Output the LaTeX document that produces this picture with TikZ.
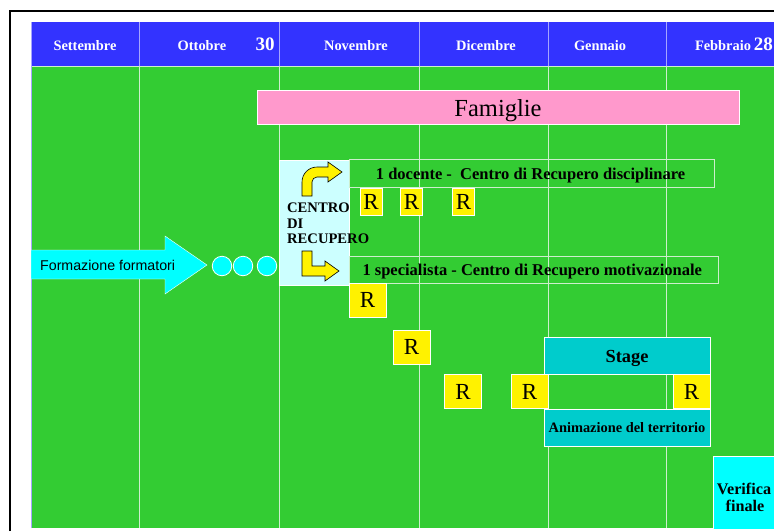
\documentclass[tikz,border=0pt]{standalone}
\usepackage{fontspec}
\setmainfont{Liberation Serif}
\newfontfamily\arialfont{Liberation Sans}

\definecolor{headblue}{RGB}{51,51,255}
\definecolor{fieldgreen}{RGB}{51,204,51}
\definecolor{gridgreen}{RGB}{205,238,205}
\definecolor{gridblue}{RGB}{165,165,255}
\definecolor{famipink}{RGB}{255,153,204}
\definecolor{centrocyan}{RGB}{204,255,255}
\definecolor{stagecyan}{RGB}{0,204,204}
\definecolor{aqua}{RGB}{0,255,255}

\tikzset{
  month/.style={text=white,anchor=base,font=\fontsize{14.4}{16}\selectfont\bfseries},
  daynum/.style={text=white,anchor=base,font=\fontsize{19}{20}\selectfont\bfseries},
  plan/.style={anchor=base west,font=\fontsize{16.5}{18}\selectfont\bfseries},
  centro/.style={anchor=base west,font=\fontsize{14.6}{16}\selectfont\bfseries},
  rbox/.style={fill=yellow,draw=white,line width=0.8pt,inner sep=0pt,
    minimum width=37pt,minimum height=34pt,font=\fontsize{23}{24}\selectfont},
  dot/.style={circle,fill=aqua,draw=white,line width=0.8pt,inner sep=0pt,minimum size=19.5pt},
  bentarrow/.style={fill=yellow,draw=black,line width=0.6pt,line join=miter}
}

\begin{document}
\begin{tikzpicture}[x=1pt,y=-1pt,inner sep=0pt]
  \useasboundingbox (0,0) rectangle (774,531);
  \fill[white] (0,0) rectangle (774,531);
  \draw[line width=2pt] (10,531) -- (10,11) -- (774,11);

  % calendar
  \fill[headblue] (31,22) rectangle (780,66);
  \fill[fieldgreen] (31,66) rectangle (780,528);
  \foreach \x in {139,279,419,548,666} {
    \draw[gridblue] (\x,22) -- (\x,66);
    \draw[gridgreen] (\x,66) -- (\x,528);
  }
  \draw[gridgreen] (31,66) -- (780,66);
  \draw[gridblue] (31,22) -- (31,528);

  \node[month] (sett) at (85,50) {Settembre};
  \node[month] (ott) at (202,50) {Ottobre};
  \node[daynum] (ott30) at (265,50) {30};
  \node[month] (nov) at (356,50) {Novembre};
  \node[month] (dic) at (486,50) {Dicembre};
  \node[month] (genn) at (600,50) {Gennaio};
  \node[month] (febb) at (723,50) {Febbraio};
  \node[daynum,anchor=base east] (febb28) at (773,50) {28};

  % famiglie
  \filldraw[fill=famipink,draw=white] (257,90) rectangle (739,124);
  \node[anchor=base,font=\fontsize{24.5}{26}\selectfont] (famiglie) at (498,116) {Famiglie};

  % formazione
  \filldraw[fill=aqua,draw=white] (31,250) -- (165,250) -- (165,236) -- (207,265)
    -- (165,294) -- (165,279) -- (31,279) -- cycle;
  \node[anchor=base west,font=\arialfont\fontsize{14.2}{16}\selectfont] (formaz) at (40,270) {Formazione formatori};
  \foreach \cx [count=\i] in {222,243,267}
    \node[dot] (dot\i) at (\cx,266) {};

  % centro di recupero
  \filldraw[fill=centrocyan,draw=white] (279,160) rectangle (349,285);
  \draw[gridgreen] (349,159) rectangle (714,187);
  \draw[gridgreen] (349,256) rectangle (718,283);
  \filldraw[bentarrow] (302,196) -- (302,182) arc[start angle=180,end angle=270,radius=15]
    -- (328,167) -- (328,162) -- (342,172) -- (328,182) -- (328,177) -- (317,177)
    arc[start angle=270,end angle=180,radius=5] -- (312,196) -- cycle;
  \filldraw[bentarrow] (302,251) -- (302,276) -- (325,276) -- (325,281) -- (339,271)
    -- (325,261) -- (325,266) -- (312,266) -- (312,251) -- cycle;
  \node[centro] (centro1) at (287,212.7) {CENTRO};
  \node[centro] (centro2) at (287,228.7) {DI};
  \node[centro] (centro3) at (287,243.5) {RECUPERO};
  \node[plan] (docente) at (375.7,179.3) {1 docente - \ Centro di Recupero disciplinare};
  \node[plan] (specialista) at (362.3,275) {1 specialista - Centro di Recupero motivazionale};

  % stage e animazione
  \filldraw[fill=stagecyan,draw=white] (544,337) rectangle (710,374);
  \filldraw[fill=stagecyan,draw=white] (544,409) rectangle (710,446);
  \node[anchor=base,font=\fontsize{18.4}{20}\selectfont\bfseries] (stage) at (627,362.7) {Stage};
  \node[anchor=base,font=\fontsize{14.4}{16}\selectfont\bfseries] (animaz) at (627,432.3) {Animazione del territorio};

  % rientri
  \foreach \rx [count=\i] in {371,411.5,463.5}
    \node[rbox,minimum width=22pt,minimum height=27pt] (rdoc\i) at (\rx,201.5) {R};
  \node[rbox] (rspec1) at (367.5,300) {R};
  \node[rbox] (rspec2) at (411.5,347) {R};
  \node[rbox] (rspec3) at (463,391.5) {R};
  \node[rbox] (rspec4) at (529.5,391.5) {R};
  \node[rbox] (rspec5) at (691.5,391.5) {R};

  % verifica
  \filldraw[fill=aqua,draw=white] (713,456) rectangle (780,529);
  \node[anchor=base,font=\fontsize{16.2}{18}\selectfont\bfseries] (verifica) at (744,494) {Verifica};
  \node[anchor=base,font=\fontsize{16.2}{18}\selectfont\bfseries] (finale) at (745,511.7) {finale};
\end{tikzpicture}
\end{document}
